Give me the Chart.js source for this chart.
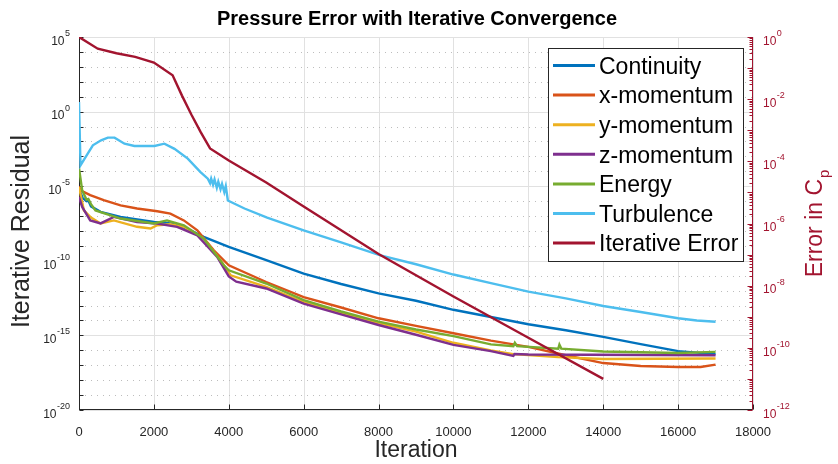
<!DOCTYPE html>
<html>
<head>
<meta charset="utf-8">
<title>Pressure Error with Iterative Convergence</title>
<script src="https://cdn.jsdelivr.net/npm/chart.js@4/dist/chart.umd.min.js"></script>
<style>
  html, body { margin: 0; padding: 0; background: #ffffff; }
  #wrap { width: 838px; height: 464px; }
</style>
</head>
<body>
<div id="wrap"><canvas id="chart" width="838" height="464"></canvas></div>
<script>
// ---- Residual histories (left axis) ----
const continuityIter = [0, 100, 200, 250, 320, 575, 1110, 2000, 2450, 2900, 3330, 4000, 5000, 6000, 7000, 8000, 9000, 10000, 11000, 12000, 13000, 14000, 15000, 16000, 17000];
const continuity     = [6.3e-6, 1.6e-6, 1.0e-6, 1.1e-6, 4.5e-7, 1.9e-7, 8.7e-8, 4.0e-8, 3.2e-8, 1.4e-8, 4.0e-9, 8.5e-10, 1.1e-10, 1.4e-11, 2.8e-12, 6.6e-13, 2.1e-13, 5.2e-14, 1.7e-14, 5.6e-15, 2.2e-15, 7.9e-16, 2.6e-16, 8.9e-17, 5.6e-17];

const xMomentumIter = [0, 40, 300, 660, 1110, 1550, 2090, 2440, 2800, 3160, 3600, 4000, 5000, 6000, 7000, 8000, 9000, 10000, 11000, 12000, 13000, 14000, 15000, 16000, 16600, 17000];
const xMomentum     = [1.0e-5, 5.2e-6, 2.5e-6, 1.15e-6, 5.2e-7, 3.2e-7, 2.1e-7, 1.45e-7, 5.1e-8, 1.1e-8, 5.0e-10, 5.0e-11, 3.8e-12, 3.7e-13, 7.4e-14, 1.4e-14, 4.3e-15, 1.4e-15, 4.5e-16, 1.7e-16, 4.7e-17, 1.4e-17, 8.9e-18, 7.6e-18, 7.6e-18, 1.1e-17];

const yMomentumIter = [0, 130, 300, 575, 930, 1550, 1910, 2090, 2440, 2800, 3330, 3780, 4050, 5000, 6000, 7000, 8000, 9000, 10000, 11000, 11600, 12800, 14000, 17000];
const yMomentum     = [8.9e-6, 2.4e-7, 8.7e-8, 3.2e-8, 5.1e-8, 1.9e-8, 1.45e-8, 2.4e-8, 2.8e-8, 1.9e-8, 3.1e-9, 1.07e-10, 1.07e-11, 1.8e-12, 1.7e-13, 3.2e-14, 6.6e-15, 1.8e-15, 3.2e-16, 1.0e-16, 5.6e-17, 3.5e-17, 2.6e-17, 2.8e-17];

const zMomentumIter = [0, 85, 300, 575, 930, 1550, 2090, 2620, 3160, 3690, 4000, 4200, 5000, 6000, 7000, 8000, 9000, 10000, 11000, 11600, 11630, 12000, 17000];
const zMomentum     = [1.9e-6, 4.1e-7, 5.1e-8, 3.2e-8, 8.7e-8, 4.0e-8, 3.1e-8, 1.9e-8, 5.1e-9, 1.8e-10, 8.9e-12, 4.0e-12, 1.4e-12, 1.35e-13, 2.6e-14, 5.0e-15, 1.1e-15, 2.3e-16, 8.9e-17, 4.2e-17, 5.6e-17, 5.2e-17, 4.7e-17];

const energyIter = [0, 85, 200, 250, 320, 440, 1110, 2000, 2350, 2800, 3330, 3870, 4000, 5000, 6000, 7000, 8000, 9000, 10000, 11000, 11600, 11640, 11700, 12800, 12830, 12880, 14000, 16000, 17000];
const energy     = [1.6e-4, 5.2e-6, 1.26e-6, 1.4e-6, 6.3e-7, 2.4e-7, 6.8e-8, 3.2e-8, 5.1e-8, 2.4e-8, 3.1e-9, 5.0e-11, 2.3e-11, 3.0e-12, 2.3e-13, 4.0e-14, 8.3e-15, 2.5e-15, 8.9e-16, 2.5e-16, 1.9e-16, 3.2e-16, 1.9e-16, 1.3e-16, 2.4e-16, 1.3e-16, 8.3e-17, 6.6e-17, 7.9e-17];

const turbulenceIter = [0, 40, 150, 370, 590, 770, 950, 1215, 1480, 2015, 2280, 2550, 2905, 3245, 3440, 3500, 3530, 3580, 3620, 3680, 3720, 3780, 3820, 3880, 3920, 3975, 4420, 5025, 6000, 7000, 8050, 9000, 10000, 11000, 12000, 13000, 14000, 15000, 16000, 16500, 17000];
const turbulence     = [4.4, 2.5e-4, 7.1e-4, 5.5e-3, 1.2e-2, 1.8e-2, 1.8e-2, 7.1e-3, 5.0e-3, 5.0e-3, 7.1e-3, 3.2e-3, 7.1e-4, 8.9e-5, 3.2e-5, 1.6e-5, 3.2e-5, 1.26e-5, 2.8e-5, 7.9e-6, 2.0e-5, 6.3e-6, 1.4e-5, 4.0e-6, 1.0e-5, 1.1e-6, 3.2e-7, 7.9e-8, 1.1e-8, 1.7e-9, 2.3e-10, 5.9e-11, 1.2e-11, 3.2e-12, 8.5e-13, 3.0e-13, 9.3e-14, 3.7e-14, 1.4e-14, 1.0e-14, 8.3e-15];

// ---- Error in Cp (right axis) ----
const cpErrorIter = [0, 500, 1000, 1500, 2000, 2500, 2750, 3000, 3250, 3500, 4000, 5000, 6000, 8000, 10000, 12000, 14000];
const cpError     = [1.0, 0.42, 0.30, 0.23, 0.15, 0.059, 0.013, 3.2e-3, 8.7e-4, 2.6e-4, 1.07e-4, 2.1e-5, 3.5e-6, 1.05e-7, 4.5e-9, 2.1e-10, 1.0e-11];

// ---- Axis decades and labels ----
const leftDecades = [5, -20];                 // 10^5 .. 10^-20
const leftLabelExps = [5, 0, -5, -10, -15, -20];
const rightDecades = [0, -12];                // 10^0 .. 10^-12
const rightLabelExps = [0, -2, -4, -6, -8, -10, -12];
const iterationTicks = [0, 2000, 4000, 6000, 8000, 10000, 12000, 14000, 16000, 18000];

const seriesNames = ['Continuity', 'x-momentum', 'y-momentum', 'z-momentum', 'Energy', 'Turbulence', 'Iterative Error'];
const seriesColors = ['#0072BD', '#D95319', '#EDB120', '#7E2F8E', '#77AC30', '#4DBEEE', '#A2142F'];

const FONT = '"Liberation Sans", Arial, Helvetica, sans-serif';
const INK = '#262626';
const RED = '#A2142F';

function pairs(xs, ys) { return xs.map((x, i) => ({ x: x, y: ys[i] })); }

const seriesData = [
  pairs(continuityIter, continuity),
  pairs(xMomentumIter, xMomentum),
  pairs(yMomentumIter, yMomentum),
  pairs(zMomentumIter, zMomentum),
  pairs(energyIter, energy),
  pairs(turbulenceIter, turbulence),
  pairs(cpErrorIter, cpError)
];

const datasets = seriesData.map((d, i) => ({
  label: seriesNames[i],
  data: d,
  yAxisID: i === 6 ? 'y1' : 'y',
  borderColor: seriesColors[i],
  backgroundColor: seriesColors[i],
  borderWidth: 2.4,
  pointRadius: 0,
  tension: 0,
  fill: false,
  order: seriesNames.length - i   // later series are painted over earlier ones
}));

function powerLabel(ctx, exp, x, y, align, color) {
  const base = '10', sup = String(exp);
  ctx.font = '12px ' + FONT;
  const wb = ctx.measureText(base).width;
  ctx.font = '9px ' + FONT;
  const ws = ctx.measureText(sup).width;
  const x0 = align === 'right' ? x - wb - ws - 0.5 : x;
  ctx.fillStyle = color;
  ctx.textAlign = 'left';
  ctx.textBaseline = 'middle';
  ctx.font = '12px ' + FONT;
  ctx.fillText(base, x0, y + 4.5);
  ctx.font = '9px ' + FONT;
  ctx.fillText(sup, x0 + wb + 0.5, y - 3.5);
}

function hLine(ctx, x1, x2, y) { ctx.beginPath(); ctx.moveTo(x1, y); ctx.lineTo(x2, y); ctx.stroke(); }
function vLine(ctx, x, y1, y2) { ctx.beginPath(); ctx.moveTo(x, y1); ctx.lineTo(x, y2); ctx.stroke(); }

const frame = {
  id: 'frame',
  beforeDatasetsDraw(chart) {
    const { ctx, chartArea: a, scales } = chart;
    const sx = scales.x, yl = scales.y, yr = scales.y1;
    ctx.save();
    ctx.lineWidth = 1;
    // vertical grid at each labelled iteration
    ctx.strokeStyle = '#e1e1e1';
    iterationTicks.forEach(t => vLine(ctx, Math.round(sx.getPixelForValue(t)) + 0.5, a.top, a.bottom));
    // horizontal grid: solid at labelled decades, dotted at the rest
    for (let e = leftDecades[1]; e <= leftDecades[0]; e++) {
      const py = Math.round(yl.getPixelForValue(Math.pow(10, e))) + 0.5;
      if (leftLabelExps.includes(e)) {
        ctx.setLineDash([]);
        ctx.strokeStyle = '#e1e1e1';
      } else {
        ctx.setLineDash([1, 5]);
        ctx.strokeStyle = '#bdbdbd';
      }
      hLine(ctx, a.left, a.right, py);
    }
    ctx.setLineDash([]);

    // left and bottom axes
    const L = Math.round(a.left) + 0.5, R = Math.round(a.right) - 0.5, B = Math.round(a.bottom) - 0.5;
    ctx.strokeStyle = INK;
    vLine(ctx, L, a.top, a.bottom);
    hLine(ctx, a.left, a.right, B);
    for (let e = leftDecades[1]; e <= leftDecades[0]; e++) {
      const py = Math.round(yl.getPixelForValue(Math.pow(10, e))) + 0.5;
      hLine(ctx, L, L + 4, py);
    }
    iterationTicks.forEach(t => {
      const px = Math.round(sx.getPixelForValue(t)) + 0.5;
      vLine(ctx, px, B, B - 5);
    });

    // right axis with log minor ticks
    ctx.strokeStyle = RED;
    vLine(ctx, R, a.top, a.bottom);
    for (let e = rightDecades[1]; e <= rightDecades[0]; e++) {
      const py = Math.round(yr.getPixelForValue(Math.pow(10, e))) + 0.5;
      hLine(ctx, R - 5, R, py);
      if (e < rightDecades[0]) {
        for (let m = 2; m <= 9; m++) {
          const pm = Math.round(yr.getPixelForValue(m * Math.pow(10, e))) + 0.5;
          hLine(ctx, R - 3, R, pm);
        }
      }
    }
    ctx.restore();
  },
  afterDatasetsDraw(chart) {
    const { ctx, chartArea: a, scales } = chart;
    const yl = scales.y, yr = scales.y1;
    const cx = (a.left + a.right) / 2, cy = (a.top + a.bottom) / 2;
    ctx.save();

    // tick labels with superscript exponents
    leftLabelExps.forEach(e => powerLabel(ctx, e, a.left - 9, yl.getPixelForValue(Math.pow(10, e)), 'right', INK));
    rightLabelExps.forEach(e => powerLabel(ctx, e, a.right + 10, yr.getPixelForValue(Math.pow(10, e)), 'left', RED));

    // title
    ctx.fillStyle = '#000000';
    ctx.textAlign = 'center';
    ctx.textBaseline = 'middle';
    ctx.font = 'bold 20px ' + FONT;
    ctx.fillText('Pressure Error with Iterative Convergence', cx + 1, 19);

    // x title
    ctx.fillStyle = INK;
    ctx.font = '23px ' + FONT;
    ctx.fillText('Iteration', cx, 451);

    // left title
    ctx.save();
    ctx.translate(22, cy + 8);
    ctx.rotate(-Math.PI / 2);
    ctx.font = '25px ' + FONT;
    ctx.fillText('Iterative Residual', 0, 0);
    ctx.restore();

    // right title with subscript
    ctx.save();
    ctx.translate(816, cy);
    ctx.rotate(-Math.PI / 2);
    ctx.fillStyle = RED;
    ctx.font = '23px ' + FONT;
    const main = 'Error in C';
    const wm = ctx.measureText(main).width;
    ctx.font = '15px ' + FONT;
    const wp = ctx.measureText('p').width;
    const start = -(wm + wp + 1) / 2;
    ctx.textAlign = 'left';
    ctx.font = '23px ' + FONT;
    ctx.fillText(main, start, 0);
    ctx.font = '15px ' + FONT;
    ctx.fillText('p', start + wm + 1, 9);
    ctx.restore();

    // legend
    const bx = 548.5, by = 48.5, bw = 195, bh = 213;
    ctx.fillStyle = '#ffffff';
    ctx.fillRect(bx, by, bw, bh);
    ctx.strokeStyle = INK;
    ctx.lineWidth = 1;
    ctx.strokeRect(bx, by, bw, bh);
    ctx.font = '23px ' + FONT;
    ctx.textAlign = 'left';
    ctx.textBaseline = 'middle';
    seriesNames.forEach((name, i) => {
      const ly = 65.5 + i * 29.6;
      ctx.strokeStyle = seriesColors[i];
      ctx.lineWidth = 3;
      hLine(ctx, 553, 595, ly);
      ctx.fillStyle = '#000000';
      ctx.fillText(name, 599, ly + 2);
    });
    ctx.restore();
  }
};

new Chart(document.getElementById('chart'), {
  type: 'line',
  data: { datasets: datasets },
  options: {
    responsive: false,
    animation: false,
    devicePixelRatio: 1,
    layout: { padding: { top: 37, left: 0, right: 0, bottom: 0 } },
    plugins: { legend: { display: false }, title: { display: false }, tooltip: { enabled: false } },
    scales: {
      x: {
        type: 'linear',
        min: 0, max: 18000,
        grid: { display: false },
        border: { display: false },
        ticks: {
          stepSize: 2000, autoSkip: false, maxRotation: 0, padding: 7, color: INK,
          font: { family: FONT, size: 13 },
          callback: v => String(v)
        },
        afterFit(s) { s.height = 54; }
      },
      y: {
        type: 'logarithmic',
        position: 'left',
        min: 1e-20, max: 1e5,
        grid: { display: false },
        border: { display: false },
        ticks: { display: false },
        afterFit(s) { s.width = 79; }
      },
      y1: {
        type: 'logarithmic',
        position: 'right',
        min: 1e-12, max: 1,
        grid: { display: false },
        border: { display: false },
        ticks: { display: false },
        afterFit(s) { s.width = 85; }
      }
    }
  },
  plugins: [frame]
});
</script>
</body>
</html>
